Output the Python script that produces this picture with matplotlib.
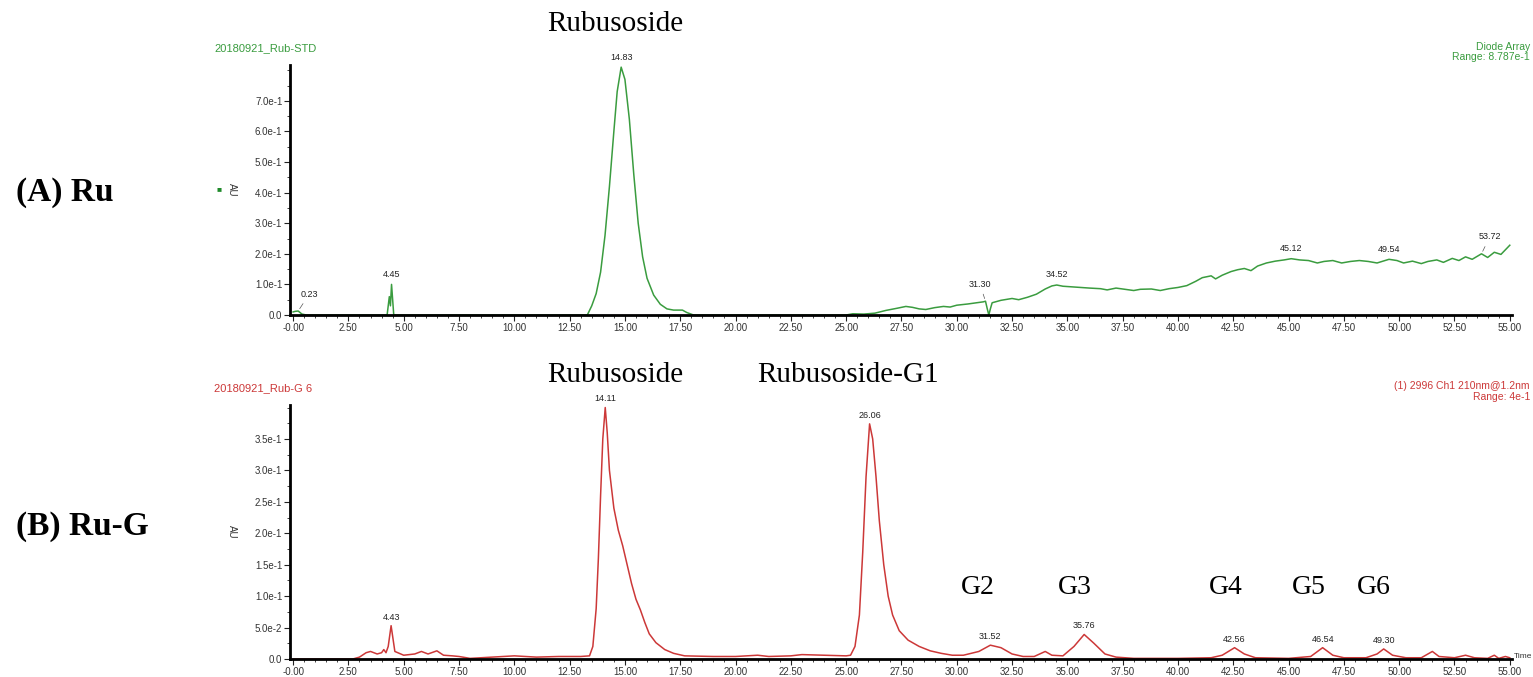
import numpy as np
import matplotlib
matplotlib.use('Agg')
import matplotlib.pyplot as plt
from matplotlib.ticker import MultipleLocator

plt.rcParams['font.family'] = ['Liberation Sans', 'DejaVu Sans']

# ---- (A) Ru standard trace, time (min) / absorbance (AU)
top_t = [0.0, 0.1, 0.23, 0.4, 0.6, 4.25, 4.3, 4.35, 4.4, 4.45, 4.5, 4.55,
         13.3, 13.5, 13.7, 13.9, 14.1, 14.3, 14.5, 14.65, 14.83, 15.0, 15.2,
         15.4, 15.6, 15.8, 16.0, 16.3, 16.6, 16.9, 17.2, 17.6, 17.8, 18.1,
         25.0, 25.3, 25.8, 26.3, 26.8, 27.3, 27.7, 28.0, 28.3, 28.6, 29.0, 29.4,
         29.7, 30.0, 30.5, 30.9, 31.2, 31.3, 31.38, 31.45, 31.52, 31.6, 32.0,
         32.5, 32.8, 33.2, 33.6, 34.0, 34.3, 34.52, 34.8, 35.2, 35.6, 36.0, 36.5,
         36.8, 37.2, 37.6, 38.0, 38.3, 38.8, 39.2, 39.6, 40.0, 40.4, 40.8, 41.1,
         41.5, 41.7, 42.0, 42.4, 42.7, 43.0, 43.3, 43.6, 44.0, 44.4, 44.8, 45.12,
         45.5, 45.9, 46.3, 46.6, 47.0, 47.4, 47.8, 48.2, 48.6, 49.0, 49.54, 49.9,
         50.2, 50.6, 51.0, 51.3, 51.7, 52.0, 52.4, 52.7, 53.0, 53.3, 53.72, 54.0,
         54.3, 54.6, 55.0]
top_au = [0.010, 0.012, 0.013, 0.003, 0.0, 0.0, 0.03, 0.06, 0.03, 0.100, 0.05, 0.0,
          0.0, 0.030, 0.070, 0.140, 0.260, 0.420, 0.600, 0.730, 0.810, 0.770, 0.640,
          0.460, 0.300, 0.190, 0.120, 0.065, 0.035, 0.020, 0.016, 0.016, 0.008, 0.0,
          0.0, 0.004, 0.003, 0.006, 0.015, 0.022, 0.028, 0.025, 0.020, 0.018, 0.024, 0.028,
          0.026, 0.032, 0.036, 0.040, 0.043, 0.045, 0.020, 0.0, 0.020, 0.040, 0.048,
          0.054, 0.050, 0.058, 0.068, 0.085, 0.095, 0.098, 0.094, 0.092, 0.090, 0.088, 0.086,
          0.082, 0.088, 0.084, 0.080, 0.084, 0.085, 0.080, 0.086, 0.090, 0.096, 0.110, 0.122,
          0.128, 0.118, 0.130, 0.142, 0.148, 0.152, 0.145, 0.160, 0.170, 0.176, 0.180, 0.184,
          0.180, 0.178, 0.170, 0.175, 0.178, 0.170, 0.175, 0.178, 0.175, 0.170, 0.182, 0.178,
          0.170, 0.176, 0.168, 0.175, 0.180, 0.172, 0.185, 0.178, 0.190, 0.182, 0.200, 0.188,
          0.205, 0.198, 0.228]
top_peaks = [0.23, 4.45, 14.83, 31.30, 34.52, 45.12, 49.54, 53.72]

# ---- (B) Ru-G reaction trace
bot_t = [0.0, 2.7, 3.0, 3.3, 3.5, 3.8, 4.0, 4.1, 4.2, 4.3, 4.43, 4.6, 5.0, 5.5,
         5.8, 6.1, 6.5, 6.8, 7.2, 7.5, 8.0, 9.0, 10.0, 11.0, 12.0, 13.0, 13.4,
         13.55, 13.7, 13.8, 13.9, 14.0, 14.11, 14.2, 14.3, 14.5, 14.7, 14.9, 15.1,
         15.3, 15.5, 15.7, 15.9, 16.1, 16.4, 16.8, 17.2, 17.7, 19.0, 20.0, 21.0,
         21.5, 22.5, 23.0, 24.0, 25.0, 25.2, 25.4, 25.6, 25.75, 25.9, 26.06, 26.2,
         26.35, 26.5, 26.7, 26.9, 27.1, 27.4, 27.8, 28.3, 28.8, 29.3, 29.8, 30.3,
         31.0, 31.52, 32.0, 32.5, 33.0, 33.5, 34.0, 34.3, 34.8, 35.3, 35.76, 36.2,
         36.7, 37.2, 38.0, 40.0, 41.5, 42.0, 42.56, 43.0, 43.5, 45.0, 46.0, 46.54,
         47.0, 47.5, 48.5, 49.0, 49.3, 49.7, 50.3, 51.0, 51.5, 51.8, 52.5, 53.0,
         53.4, 54.0, 54.3, 54.5, 54.8, 55.0]
bot_au = [0.0, 0.0, 0.003, 0.010, 0.012, 0.008, 0.010, 0.015, 0.010, 0.020, 0.053, 0.012, 0.006, 0.008,
          0.012, 0.008, 0.013, 0.006, 0.005, 0.004, 0.001, 0.003, 0.005, 0.003, 0.004, 0.004, 0.005,
          0.020, 0.080, 0.160, 0.260, 0.350, 0.400, 0.360, 0.300, 0.240, 0.205, 0.180, 0.150,
          0.120, 0.095, 0.078, 0.058, 0.040, 0.026, 0.015, 0.009, 0.005, 0.004, 0.004, 0.006,
          0.004, 0.005, 0.007, 0.006, 0.005, 0.006, 0.020, 0.070, 0.170, 0.290, 0.374, 0.350,
          0.290, 0.220, 0.150, 0.100, 0.070, 0.045, 0.030, 0.020, 0.013, 0.009, 0.006, 0.006,
          0.012, 0.022, 0.018, 0.008, 0.004, 0.004, 0.012, 0.006, 0.005, 0.020, 0.039, 0.025,
          0.008, 0.003, 0.001, 0.001, 0.002, 0.006, 0.018, 0.008, 0.002, 0.001, 0.004, 0.018,
          0.006, 0.002, 0.002, 0.008, 0.016, 0.006, 0.002, 0.002, 0.012, 0.004, 0.002, 0.006,
          0.002, 0.001, 0.006, 0.001, 0.004, 0.002]
bot_peaks = [4.43, 14.11, 26.06, 31.52, 35.76, 42.56, 46.54, 49.30]

x_ticks = np.arange(0, 55.01, 2.5)
x_labels = ['-0.00'] + ['%.2f' % v for v in x_ticks[1:]]
top_yticks = [0.0, 0.1, 0.2, 0.3, 0.4, 0.5, 0.6, 0.7]
top_ylabels = ['0.0', '1.0e-1', '2.0e-1', '3.0e-1', '4.0e-1', '5.0e-1', '6.0e-1', '7.0e-1']
bot_yticks = [0.0, 0.05, 0.1, 0.15, 0.2, 0.25, 0.3, 0.35]
bot_ylabels = ['0.0', '5.0e-2', '1.0e-1', '1.5e-1', '2.0e-1', '2.5e-1', '3.0e-1', '3.5e-1']

green = '#3a9c3f'
red = '#cc3838'
W, H = 1533, 677

fig = plt.figure(figsize=(W / 100, H / 100), dpi=100)


def px(x, y):
    return x / W, 1 - y / H


def style_axes(ax, yticks, ylabels, yminor):
    for s in ['top', 'right']:
        ax.spines[s].set_visible(False)
    for s in ['left', 'bottom']:
        ax.spines[s].set_linewidth(2)
    ax.set_xlim(-0.14, 55.1)
    ax.set_xticks(x_ticks)
    ax.set_xticklabels(x_labels)
    ax.xaxis.set_minor_locator(MultipleLocator(0.5))
    ax.set_yticks(yticks)
    ax.set_yticklabels(ylabels)
    ax.yaxis.set_minor_locator(MultipleLocator(yminor))
    ax.tick_params(which='major', length=4, width=0.8, labelsize=7, colors='#222222', pad=1.5)
    ax.tick_params(which='minor', length=2, width=0.6, colors='#222222')
    for lab in ax.get_xticklabels() + ax.get_yticklabels():
        lab.set_color('#333333')


# (A)
ax1 = fig.add_axes([290 / W, (H - 315) / H, (1512 - 290) / W, 250 / H])
ax1.plot(top_t, top_au, color=green, lw=1.1)
ax1.set_ylim(0, 0.817)
style_axes(ax1, top_yticks, top_ylabels, 0.05)
# some labels sit off to one side with a short leader, like the instrument printout
top_offsets = {0.23: (8, 9), 31.30: (-4, 9), 53.72: (6, 9)}
for p in top_peaks:
    v = np.interp(p, top_t, top_au)
    off = top_offsets.get(p, (0, 4))
    lead = dict(arrowstyle='-', lw=0.5, color='#555555') if p in top_offsets else None
    ax1.annotate('%.2f' % p, xy=(p, v), xytext=off, textcoords='offset points',
                 ha='center', va='bottom', fontsize=6.5, color='#222222', arrowprops=lead)

# (B)
ax2 = fig.add_axes([290 / W, (H - 659) / H, (1512 - 290) / W, 254 / H])
ax2.plot(bot_t, bot_au, color=red, lw=1.1)
ax2.set_ylim(0, 0.404)
style_axes(ax2, bot_yticks, bot_ylabels, 0.025)
for p in bot_peaks:
    v = np.interp(p, bot_t, bot_au)
    ax2.annotate('%.2f' % p, xy=(p, v), xytext=(0, 3), textcoords='offset points',
                 ha='center', va='bottom', fontsize=6.5, color='#222222')
fig.text(*px(1514, 657), 'Time', fontsize=6, color='#333333', va='center', ha='left')

# instrument headers
fig.text(*px(214, 48), '20180921_Rub-STD', fontsize=8, color=green, va='center')
fig.text(*px(1530, 47), 'Diode Array', fontsize=7.5, color=green, va='center', ha='right')
fig.text(*px(1530, 57), 'Range: 8.787e-1', fontsize=7.5, color=green, va='center', ha='right')
fig.text(*px(214, 388), '20180921_Rub-G 6', fontsize=8, color=red, va='center')
fig.text(*px(1530, 386), '(1) 2996 Ch1 210nm@1.2nm', fontsize=7.5, color=red, va='center', ha='right')
fig.text(*px(1530, 397), 'Range: 4e-1', fontsize=7.5, color=red, va='center', ha='right')

# AU labels
fig.text(*px(232, 190), 'AU', fontsize=7, rotation=270, color='#333333', ha='center', va='center')
fig.text(*px(219, 190), '\u25a0', fontsize=6, color='#1f8a2a', ha='center', va='center')
fig.text(*px(232, 532), 'AU', fontsize=7, rotation=270, color='#333333', ha='center', va='center')

# panel labels and compound names
serif = ['Liberation Serif', 'DejaVu Serif']
fig.text(*px(16, 193), '(A) Ru', fontsize=24, fontweight='bold', family=serif, va='center')
fig.text(*px(16, 527), '(B) Ru-G', fontsize=24, fontweight='bold', family=serif, va='center')
fig.text(*px(615, 24), 'Rubusoside', fontsize=21, family=serif, ha='center', va='center')
fig.text(*px(615, 375), 'Rubusoside', fontsize=21, family=serif, ha='center', va='center')
fig.text(*px(848, 375), 'Rubusoside-G1', fontsize=21, family=serif, ha='center', va='center')
for name, xp in zip(['G2', 'G3', 'G4', 'G5', 'G6'], [978, 1075, 1226, 1309, 1374]):
    fig.text(*px(xp, 588), name, fontsize=20, family=serif, ha='center', va='center')

fig.savefig('out.png', dpi=100)
